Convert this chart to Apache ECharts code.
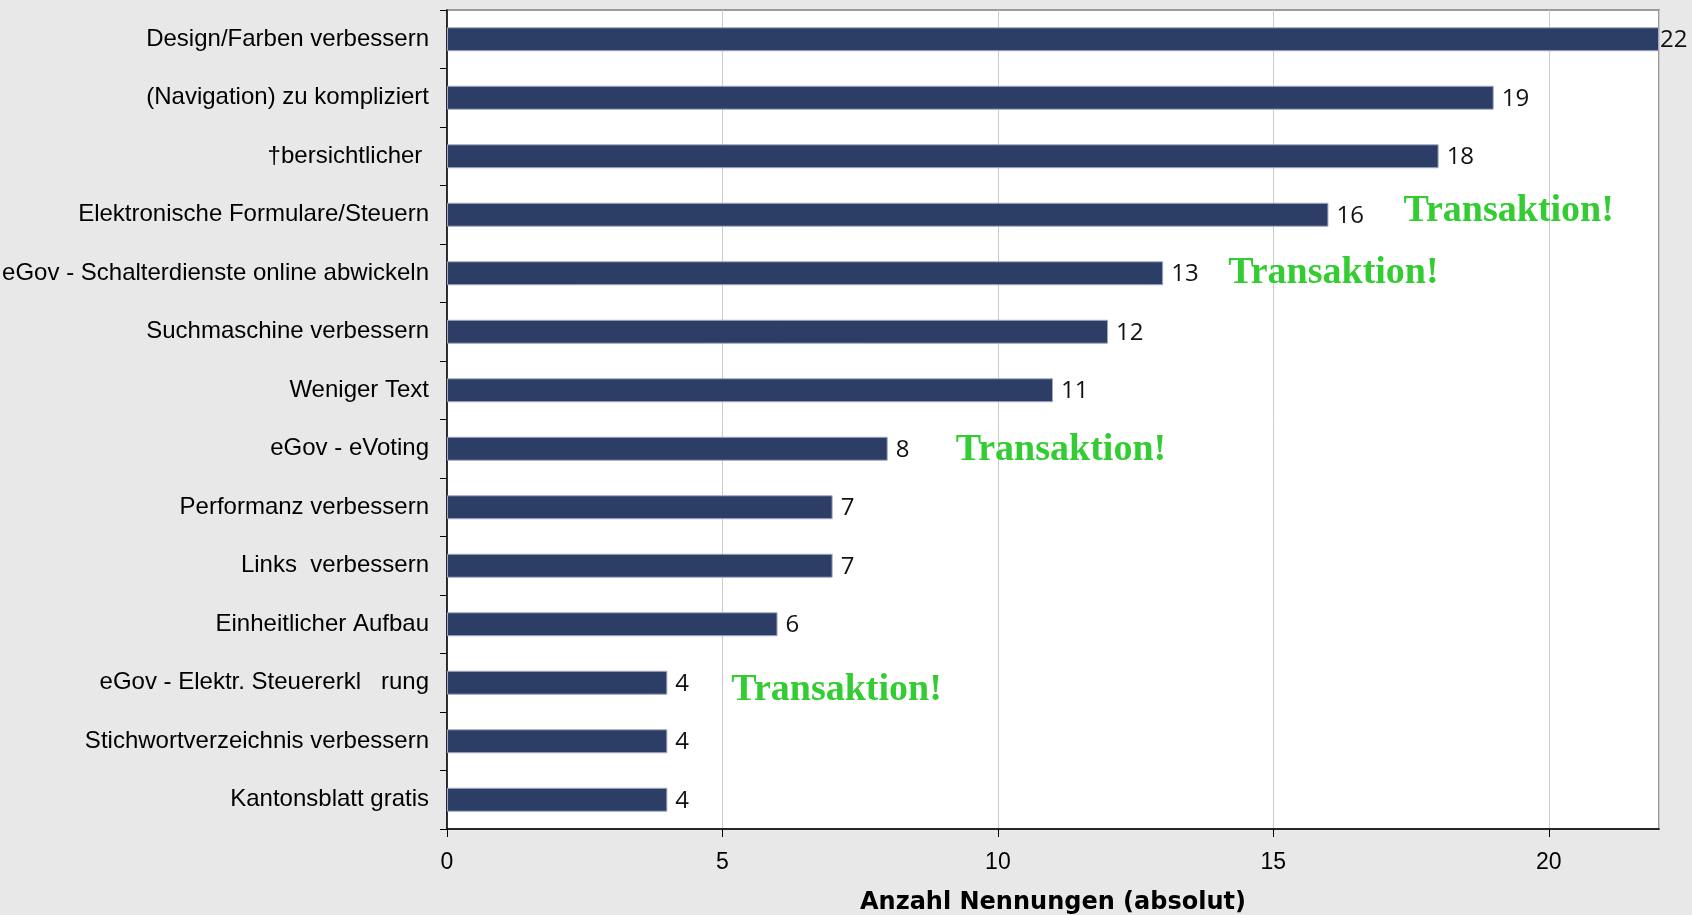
<!DOCTYPE html>
<html>
<head>
<meta charset="utf-8">
<script src="https://cdn.jsdelivr.net/npm/echarts@6/dist/echarts.min.js"></script>
<style>
html,body{margin:0;padding:0;background:#E8E8E8;}
#chart{width:1692px;height:915px;}
</style>
</head>
<body>
<div id="chart"></div>
<script>
// ---- data ----
const categories = [
  "Design/Farben verbessern",
  "(Navigation) zu kompliziert",
  "†bersichtlicher ",
  "Elektronische Formulare/Steuern",
  "eGov - Schalterdienste online abwickeln",
  "Suchmaschine verbessern",
  "Weniger Text",
  "eGov - eVoting",
  "Performanz verbessern",
  "Links  verbessern",
  "Einheitlicher Aufbau",
  "eGov - Elektr. Steuererkl   rung",
  "Stichwortverzeichnis verbessern",
  "Kantonsblatt gratis"
];
const values = [22, 19, 18, 16, 13, 12, 11, 8, 7, 7, 6, 4, 4, 4];
const xTicks = [0, 5, 10, 15, 20];
const axisName = "Anzahl Nennungen (absolut)";
const annotationText = "Transaktion!";
const annotatedCategories = [
  "Elektronische Formulare/Steuern",
  "eGov - Schalterdienste online abwickeln",
  "eGov - eVoting",
  "eGov - Elektr. Steuererkl   rung"
];

// ---- chart ----
const chart = echarts.init(document.getElementById('chart'), null, {renderer: 'canvas'});
const xMax = 22;
const option = {
  backgroundColor: '#E8E8E8',
  animation: false,
  grid: {
    left: 447, right: 33, top: 10, bottom: 86,
    show: true, backgroundColor: '#FFFFFF', borderColor: '#9A9A9A', borderWidth: 2,
    containLabel: false,
    outerBoundsMode: 'none'
  },
  xAxis: {
    type: 'value',
    min: xTicks[0], max: xMax, interval: 5,
    name: axisName,
    nameLocation: 'middle',
    nameGap: 62,
    nameTextStyle: {fontFamily: 'DejaVu Sans', fontWeight: 'bold', fontSize: 24, color: '#000'},
    axisLine: {show: true, lineStyle: {color: '#000', width: 1.5}},
    axisTick: {show: true, inside: false, length: 8, lineStyle: {color: '#000', width: 1}},
    axisLabel: {margin: 22, fontFamily: 'Liberation Sans', fontSize: 23, color: '#000',
      showMaxLabel: false},
    splitLine: {show: true, lineStyle: {color: '#CCCCCC', width: 1}}
  },
  yAxis: {
    type: 'category',
    data: categories,
    inverse: true,
    axisLine: {show: true, lineStyle: {color: '#000', width: 1.5}},
    axisTick: {show: true, inside: false, length: 7, alignWithLabel: false, lineStyle: {color: '#000', width: 1}},
    axisLabel: {margin: 18, fontFamily: 'Liberation Sans', fontSize: 24, color: '#000'},
    splitLine: {show: false}
  },
  series: [{
    type: 'bar',
    data: values.map(function (v) {
      return v >= xMax ? {value: v, label: {distance: 1}} : v;
    }),
    barCategoryGap: '59%',
    itemStyle: {color: '#2C3E66', borderColor: '#A3ABC2', borderWidth: 1},
    label: {
      show: true, position: 'right', distance: 8, offset: [0, 1],
      fontFamily: 'Open Sans', fontSize: 24, color: '#111'
    }
  }]
};
chart.setOption(option);

// annotations placed through the chart's own coordinate system
const annoNudge = {
  "Elektronische Formulare/Steuern": [75, -4],
  "eGov - Schalterdienste online abwickeln": [65, 0],
  "eGov - eVoting": [68, 1],
  "eGov - Elektr. Steuererkl   rung": [64, 7]
};
const graphics = annotatedCategories.map(function (cat) {
  const idx = categories.indexOf(cat);
  const p = chart.convertToPixel({gridIndex: 0}, [values[idx], idx]);
  const n = annoNudge[cat] || [65, 0];
  return {
    type: 'text',
    x: p[0] + n[0],
    y: p[1] + n[1],
    style: {
      text: annotationText,
      fill: '#33CC33',
      font: 'bold 38px "Liberation Serif"',
      textAlign: 'left',
      textVerticalAlign: 'middle',
      verticalAlign: 'middle'
    },
    z: 10
  };
});
chart.setOption({graphic: graphics});
</script>
</body>
</html>
